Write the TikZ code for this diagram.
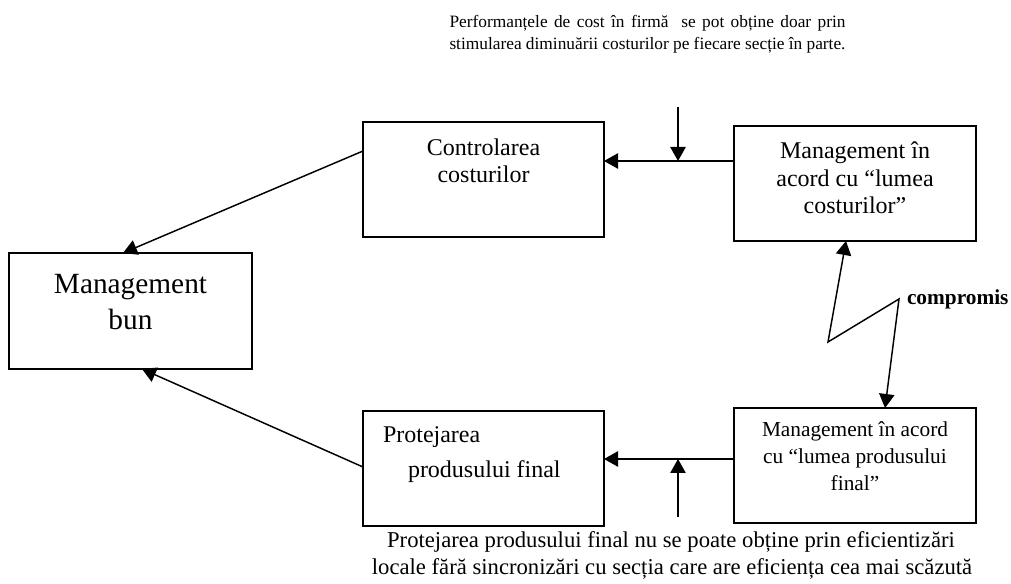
\documentclass[tikz,border=0pt]{standalone}
\usepackage{fontspec}
\setmainfont{Liberation Serif}
\usetikzlibrary{arrows.meta,calc}

\tikzset{
  box/.style={draw, line width=1.5pt, rectangle, inner sep=0pt, outer sep=0pt,
              minimum width=#1, minimum height=86.25pt},
  box/.default=181pt,
  txt/.style={inner sep=0pt, outer sep=0pt, align=center},
  tip/.tip={Triangle[length=10.5pt,width=11.5pt]},
  arr/.style={line width=1.1pt, -tip},
  arrboth/.style={line width=1.1pt, tip-tip},
}

\begin{document}
\begin{tikzpicture}[x=0.75pt, y=-0.75pt]
  \useasboundingbox (0,0) rectangle (1011,584);

  % boxes
  \node[box=182.25pt, minimum height=87pt] (bun)   at (130.5,311)   {};
  \node[box=180.75pt] (ctrl)  at (483.5,179.5) {};
  \node[box=181.5pt]  (mcost) at (855,183.5)   {};
  \node[box=180.75pt] (prot)  at (483.5,468.5) {};
  \node[box=181.5pt]  (mprod) at (855,465.5)   {};

  % box texts
  \node[txt, anchor=north, font=\fontsize{22}{27}\selectfont] (tbun) at (130.5,274)
    {Management\\bun};
  \node[txt, anchor=north, font=\fontsize{18}{20.25}\selectfont] (tctrl) at (483.5,139)
    {Controlarea\\costurilor};
  \node[txt, anchor=north, font=\fontsize{18}{20.6}\selectfont] (tmcost) at (855,142)
    {Management în\\acord cu “lumea\\costurilor”};
  \node[txt, anchor=north west, align=left, font=\fontsize{18}{26.25}\selectfont] (tprot) at (383,427)
    {Protejarea\\\hspace*{18.75pt}produsului final};
  \node[txt, anchor=north, font=\fontsize{16}{20}\selectfont] (tmprod) at (855,422)
    {Management în acord\\cu “lumea produsului\\final”};

  % explanatory notes
  \node[txt, anchor=north, font=\fontsize{13}{16.5}\selectfont] (ntop) at (647.5,15)
    {\parbox{297pt}{\rightskip=0pt plus -0pt \parfillskip=0pt plus 1fil
      Performanțele de cost în firmă\ \ se pot obține doar prin\linebreak
      stimularea diminuării costurilor pe fiecare secție în parte.}};
  \node[txt, anchor=base, font=\fontsize{17}{20}\selectfont] (nbota) at (671,548)
    {Protejarea produsului final nu se poate obține prin eficientizări};
  \node[txt, anchor=base, font=\fontsize{17}{20}\selectfont] (nbotb) at (672,575)
    {locale fără sincronizări cu secția care are eficiența cea mai scăzută};
  \node[txt, anchor=base west, font=\bfseries\fontsize{16}{19}\selectfont] (comp) at (907,305)
    {compromis};

  % junctions on the horizontal links
  \coordinate (jt) at (678,161);
  \coordinate (jb) at (678,459);
  \coordinate (topin) at (678,107);
  \coordinate (botin) at (678,517);

  % horizontal links
  \draw[arr] (mcost.west |- jt) -- (ctrl.east |- jt);
  \draw[arr] (mprod.west |- jb) -- (prot.east |- jb);
  \draw[arr] (topin) -- (jt);
  \draw[arr] (botin) -- (jb);

  % links to the central box
  \draw[arr] ($(ctrl.north west)+(0,29)$) -- ($(bun.north west)+(114,0)$);
  \draw[arr] ($(prot.north west)+(0,56)$) -- ($(bun.south west)+(133,0)$);

  % compromise zigzag
  \coordinate (z1) at (828,342);
  \coordinate (z2) at (899,299);
  \draw[arrboth] ($(mcost.south west)+(112,0)$) -- (z1) -- (z2) -- ($(mprod.north west)+(151,0)$);
\end{tikzpicture}
\end{document}
